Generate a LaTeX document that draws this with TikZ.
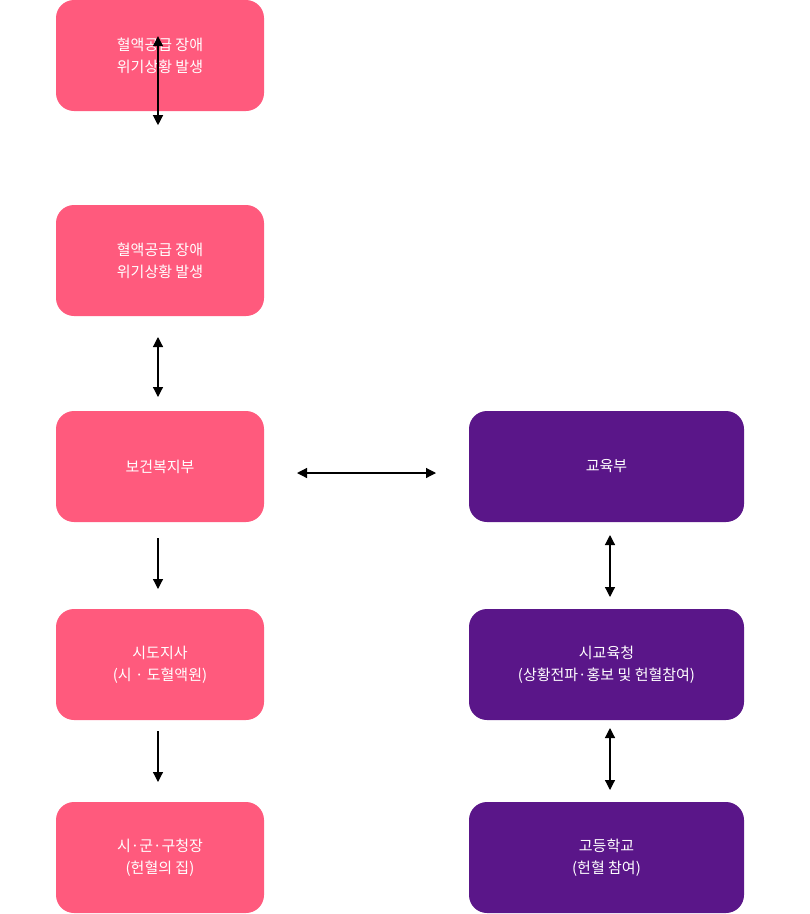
\documentclass[tikz,border=0pt]{standalone}
\usepackage{fontspec}
\newfontfamily\kr{Noto Sans CJK KR}
\usetikzlibrary{arrows.meta}
\definecolor{pinkc}{HTML}{FF5A7D}
\definecolor{purp}{HTML}{5A1689}
\begin{document}
\begin{tikzpicture}[x=1pt,y=-1pt,
  box/.style={rounded corners=18pt,minimum height=111pt,text=white,font=\kr\fontsize{15}{22}\selectfont,align=center,inner sep=0pt},
  pk/.style={box,fill=pinkc,minimum width=208pt},
  pu/.style={box,fill=purp,minimum width=275pt},
  arr/.style={-{Triangle[length=10pt,width=10pt]},line width=1.2pt},
  darr/.style={{Triangle[length=10pt,width=10pt]}-{Triangle[length=10pt,width=10pt]},line width=1.2pt}]
\useasboundingbox (0,0) rectangle (810,914);
\node[pk] (p1) at (160,55.5) {혈액공급 장애\\위기상황 발생};
\node[pk] (p2) at (160,260.5) {혈액공급 장애\\위기상황 발생};
\node[pk] (p3) at (160,466.5) {보건복지부};
\node[pk] (p4) at (160,664.5) {시도지사\\(시 · 도혈액원)};
\node[pk] (p5) at (160,857.5) {시·군·구청장\\(헌혈의 집)};
\node[pu] (q1) at (606.5,466.5) {교육부};
\node[pu] (q2) at (606.5,664.5) {시교육청\\(상황전파·홍보 및 헌혈참여)};
\node[pu] (q3) at (606.5,857.5) {고등학교\\(헌혈 참여)};
\draw[darr] ([yshift=-14pt]p1.south -| 158,0) -- ([yshift=75pt]p1.south -| 158,0);
\coordinate (a1) at (158,126); \coordinate (a2) at (158,186);
\coordinate (b1) at (158,337); \coordinate (b2) at (158,397);
\coordinate (c1) at (158,538); \coordinate (c2) at (158,589);
\coordinate (d1) at (158,731); \coordinate (d2) at (158,782);
\coordinate (h1) at (297,473); \coordinate (h2) at (436,473);
\coordinate (e1) at (610,535); \coordinate (e2) at (610,597);
\coordinate (f1) at (610,728); \coordinate (f2) at (610,790);
\draw[darr] (b1) -- (b2);
\draw[arr] (c1) -- (c2);
\draw[arr] (d1) -- (d2);
\draw[darr] (h1) -- (h2);
\draw[darr] (e1) -- (e2);
\draw[darr] (f1) -- (f2);
\end{tikzpicture}
\end{document}
